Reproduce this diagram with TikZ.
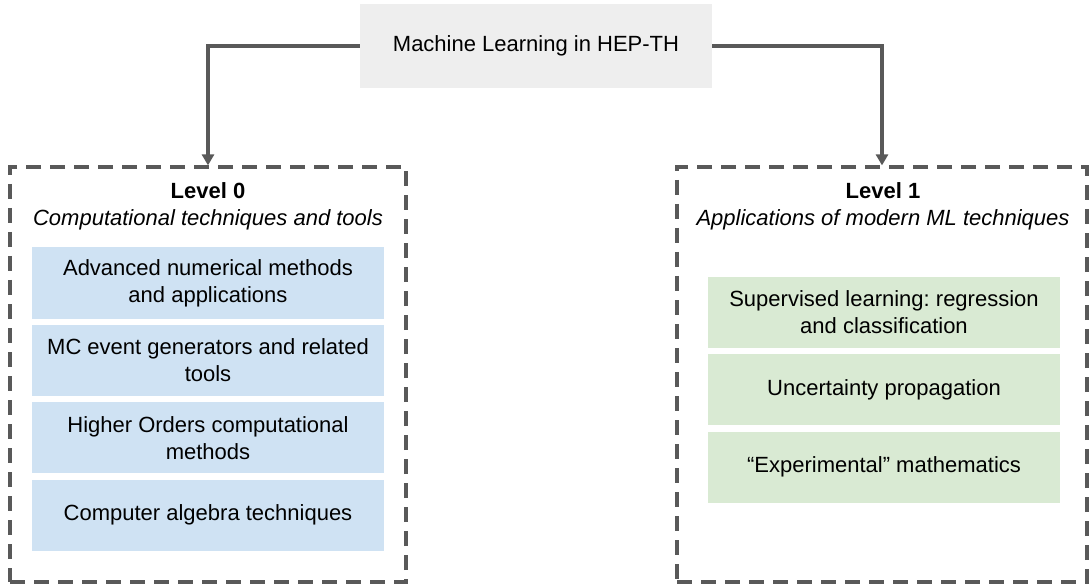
\documentclass[tikz,border=0pt]{standalone}
\usepackage{fontspec}
\setmainfont{Liberation Sans}
\frenchspacing
\usetikzlibrary{arrows.meta,positioning}
\definecolor{titlegray}{HTML}{EEEEEE}
\definecolor{lvlblue}{HTML}{CFE2F3}
\definecolor{lvlgreen}{HTML}{D9EAD3}
\definecolor{edgegray}{HTML}{595959}
\begin{document}
\begin{tikzpicture}[x=1pt,y=-1pt,
    every node/.style={font=\fontsize{22}{27}\selectfont, align=center, inner sep=0pt},
    levelbox/.style={draw=edgegray, line width=3.2pt, dash pattern=on 15pt off 9pt, minimum height=415pt},
    topicbox/.style={minimum width=352pt, minimum height=71pt},
    conn/.style={draw=edgegray, line width=3.2pt, -{Triangle[length=11pt,width=12pt]}}]
    \useasboundingbox (0,0) rectangle (1089,585);

    \node[fill=titlegray, minimum width=352pt, minimum height=84pt] (title) at (536,46) {Machine Learning in HEP-TH};

    % level 0
    \node[levelbox, minimum width=396pt] (lvl0) at (208,374.5) {};
    \node (lvl0head) at (208,206) {\textbf{Level 0}\\\textit{Computational techniques and tools}};
    \node[topicbox, fill=lvlblue] (num) at (208,283) {Advanced numerical methods\\and applications};
    \node[topicbox, fill=lvlblue, below=6pt of num] (mcgen) {MC event generators and related\\tools};
    \node[topicbox, fill=lvlblue, below=6pt of mcgen] (higher) {Higher Orders computational\\methods};
    \node[topicbox, fill=lvlblue, below=6pt of higher] (algebra) {Computer algebra techniques};

    % level 1
    \node[levelbox, minimum width=410pt] (lvl1) at (882,374.5) {};
    \node (lvl1head) at (883,206) {\textbf{Level 1}\\\textit{Applications of modern ML techniques}};
    \node[topicbox, fill=lvlgreen] (superv) at (884,312.5) {Supervised learning: regression\\and classification};
    \node[topicbox, fill=lvlgreen, below=6pt of superv] (uncert) {Uncertainty propagation};
    \node[topicbox, fill=lvlgreen, below=6pt of uncert] (expmath) {“Experimental” mathematics};

    \draw[conn] (title.west) -| (lvl0.north);
    \draw[conn] (title.east) -| (lvl1.north);
\end{tikzpicture}
\end{document}
